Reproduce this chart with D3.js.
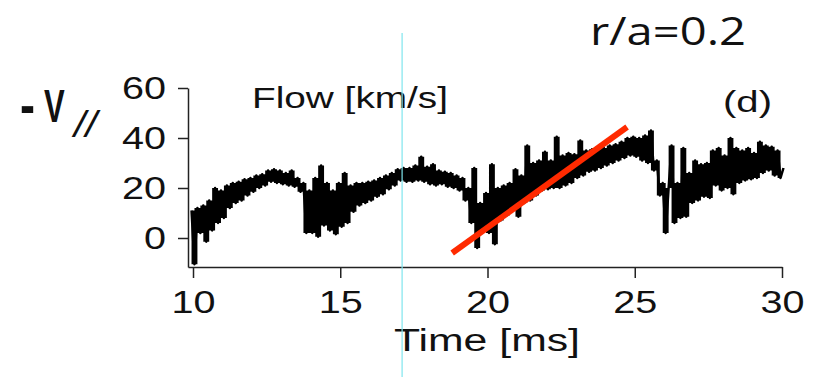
<!DOCTYPE html>
<html>
<head>
<meta charset="utf-8">
<script src="https://cdn.jsdelivr.net/npm/d3@7"></script>
<style>
  body { margin: 0; background: #fff; }
  text { font-family: "Liberation Sans", Arial, Helvetica, sans-serif; fill: #111; }
</style>
</head>
<body>
<div id="chart"></div>
<script>
var svgWidth = 823;
var svgHeight = 377;

// Flow trace: one value every 0.1 ms starting at 9.95 ms
var flowStart = 9.95;
var flowStep = 0.1;
var flowValues = [
    11, -10.5, 12, 2, 13, -1.5, 15, 3, 20, 6, 19,          // 9.95 - 10.95
    8, 21, 12, 22, 14, 22.5, 15, 23.5, 17, 24,             // 11.05
    18.5, 25, 20, 25.5, 21, 27, 22.5, 27.5, 22, 27,        // 12.05
    21.5, 26, 21, 27, 20.5, 24, 18.5, 22, 2, 19,           // 13.05
    2, 24, 0.5, 29, 5, 22, 3, 19, 1.5, 22,                 // 14.05
    4.5, 26, 6, 21, 10.5, 22, 13, 22, 14, 22.5,            // 15.05
    15, 23, 16.5, 24, 17.5, 25, 19.5, 26, 21, 27.5,        // 16.05
    23, 28, 22.5, 28, 22.5, 29, 23, 32.5, 22.5, 28.5,      // 17.05
    21.5, 29.5, 21, 27, 21.5, 26.5, 20.5, 26, 20, 25,      // 18.05
    19, 24, 15, 20, 6, 28, -4, 14, 3, 18,                  // 19.05
    2, 29.5, -2.5, 20, 7, 21, 9, 22, 11, 27.5,             // 20.05
    8.5, 25, 14, 37, 15, 30, 17, 31, 19, 34.5,             // 21.05
    19.5, 31, 20, 40.5, 20, 33, 21, 34, 22, 33.5,          // 22.05
    24, 39, 25, 35, 26.5, 35.5, 27, 36.5, 28, 36,          // 23.05
    29, 37, 30, 37.5, 31, 38.5, 32, 40, 33, 40.5,          // 24.05
    32.5, 40, 31, 41, 30, 43, 27, 31, 17, 22,              // 25.05
    2, 20, 37, 6, 22, 8, 36, 8.5, 26, 14,                  // 26.05
    31, 15, 29.5, 16.5, 30, 16, 35, 21, 36, 19,            // 27.05
    33, 20, 40, 17.5, 36, 22, 35, 23, 36, 23.5,            // 28.05
    34, 24, 38.5, 26, 37, 27, 36.5, 25, 35, 24,            // 29.05
    28                                                     // 30.05
];

// red fitted slope: [time ms, flow km/s]
var fitTimes = [18.8, 24.74];
var fitValues = [-6, 44.4];

// cyan time marker
var markerTime = 17.1;

var xTicks = [10, 15, 20, 25, 30];
var yTicks = [0, 20, 40, 60];

var svg = d3.select("#chart")
    .append("svg")
    .attr("width", svgWidth)
    .attr("height", svgHeight);

// Scales
var xScale = d3.scaleLinear()
    .domain([9.83, 30])
    .range([188, 782]);

var yScale = d3.scaleLinear()
    .domain([-11.6, 60])
    .range([267, 88]);

// Axes
var bottomAxis = d3.axisBottom(xScale)
    .tickValues(xTicks)
    .tickSize(11)
    .tickSizeOuter(0)
    .tickPadding(12);

var leftAxis = d3.axisLeft(yScale)
    .tickValues(yTicks)
    .tickSize(10)
    .tickSizeOuter(0)
    .tickPadding(12);

var xAxisG = svg.append("g")
    .attr("transform", "translate(0, 267)")
    .call(bottomAxis);

var yAxisG = svg.append("g")
    .attr("transform", "translate(188, 0)")
    .call(leftAxis);

[xAxisG, yAxisG].forEach(function (g) {
    g.attr("font-family", null).attr("font-size", null);
    g.select(".domain").attr("stroke", "#222").attr("stroke-width", 1.5);
    g.selectAll(".tick line").attr("stroke", "#222").attr("stroke-width", 1.5);
    g.selectAll(".tick text")
        .style("font-size", "32px")
        .attr("fill", "#111")
        .attr("lengthAdjust", "spacingAndGlyphs")
        .attr("textLength", d => String(d).length * 22);
});

// Flow trace
var flowData = flowValues.map((v, i) => ({ time: flowStart + i * flowStep, value: v }));

// the noisy trace is so dense it reads as a solid band: fill between neighbouring samples
var bandData = flowData.slice(0, -1).map(function (d, i) {
    var next = flowData[i + 1];
    return { time: d.time, lo: Math.min(d.value, next.value), hi: Math.max(d.value, next.value) };
});

var band = d3.area()
    .curve(d3.curveStepAfter)
    .x(d => xScale(d.time))
    .y0(d => yScale(d.lo))
    .y1(d => yScale(d.hi));

svg.append("path")
    .datum(bandData)
    .attr("d", band)
    .attr("fill", "#000");

var flowLine = d3.line()
    .x(d => xScale(d.time))
    .y(d => yScale(d.value));

svg.append("path")
    .datum(flowData)
    .attr("d", flowLine)
    .attr("fill", "none")
    .attr("stroke", "#000")
    .attr("stroke-width", 2.5)
    .attr("stroke-linejoin", "round");

// red slope
svg.append("path")
    .datum(fitTimes.map((t, i) => ({ time: t, value: fitValues[i] })))
    .attr("d", flowLine)
    .attr("fill", "none")
    .attr("stroke", "#ff2a00")
    .attr("stroke-width", 6);

// Labels
svg.append("text")
    .attr("x", 252).attr("y", 108)
    .style("font-size", "29px")
    .attr("lengthAdjust", "spacingAndGlyphs")
    .attr("textLength", 196)
    .text("Flow [km/s]");

svg.append("text")
    .attr("x", 723).attr("y", 112)
    .style("font-size", "30px")
    .attr("lengthAdjust", "spacingAndGlyphs")
    .attr("textLength", 49)
    .text("(d)");

svg.append("text")
    .attr("x", 487).attr("y", 351)
    .attr("text-anchor", "middle")
    .style("font-size", "31px")
    .attr("lengthAdjust", "spacingAndGlyphs")
    .attr("textLength", 186)
    .text("Time [ms]");

svg.append("text")
    .attr("x", 590).attr("y", 45)
    .style("font-family", "'Open Sans', 'Noto Sans', sans-serif")
    .style("font-size", "38px")
    .attr("lengthAdjust", "spacingAndGlyphs")
    .attr("textLength", 156)
    .text("r/a=0.2");

// -V// y label
svg.append("text")
    .attr("x", 20).attr("y", 124.5)
    .style("font-size", "58px")
    .style("font-weight", "bold")
    .attr("lengthAdjust", "spacingAndGlyphs")
    .attr("textLength", 15)
    .text("-");

svg.append("g")
    .attr("transform", "translate(44, 122) scale(0.66, 1)")
    .append("text")
    .style("font-size", "47px")
    .style("font-weight", "bold")
    .text("V");

svg.append("text")
    .attr("x", 74).attr("y", 137)
    .style("font-size", "37px")
    .style("font-style", "italic")
    .attr("lengthAdjust", "spacingAndGlyphs")
    .attr("textLength", 23)
    .text("//");

// cyan marker on top
svg.append("line")
    .attr("x1", xScale(markerTime)).attr("x2", xScale(markerTime))
    .attr("y1", 33).attr("y2", svgHeight)
    .attr("stroke", "#7fe6ee")
    .attr("stroke-width", 1.2);
</script>
</body>
</html>
